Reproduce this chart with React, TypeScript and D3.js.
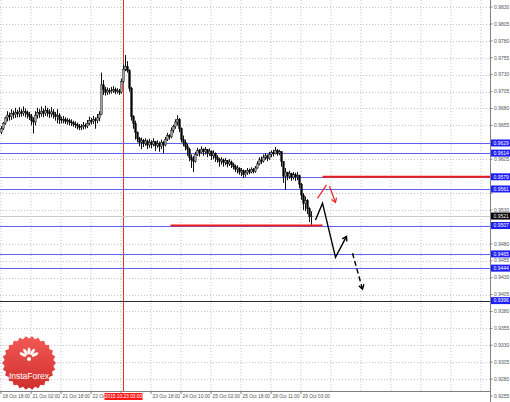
import * as d3 from "d3";

const width = 510;
const height = 402;
const plotRight = 490;
const plotBottom = 391;

// H1 candles, opens follow the previous close
const firstOpen = 0.9645;
const closes = [
  0.965, 0.9658, 0.9666, 0.967, 0.9668, 0.9673, 0.9671, 0.9674, 0.9672, 0.9675,
  0.9673, 0.9676, 0.9674, 0.9671, 0.9668, 0.9662, 0.966, 0.967, 0.9674, 0.9672,
  0.9676, 0.9673, 0.9677, 0.9674, 0.9672, 0.9675, 0.9671, 0.9668, 0.967, 0.9664,
  0.9663, 0.9664, 0.9661, 0.9662, 0.966, 0.9659, 0.9657, 0.9656, 0.9654, 0.9652,
  0.9653, 0.9655, 0.9654, 0.9658, 0.9662, 0.9661, 0.9664, 0.9662, 0.9666, 0.9671,
  0.9715, 0.9708, 0.9704, 0.9707, 0.9705, 0.9706, 0.9708, 0.9705, 0.9706, 0.9704,
  0.972, 0.9738, 0.9742, 0.9736, 0.971, 0.9668, 0.9658, 0.9645, 0.9636, 0.963,
  0.9633, 0.9628, 0.9632, 0.9626, 0.963, 0.9627, 0.9631, 0.9625, 0.9628, 0.9624,
  0.963, 0.9626, 0.9634, 0.964, 0.9638, 0.9648, 0.9653, 0.966, 0.9664, 0.965,
  0.9634, 0.963, 0.9624, 0.962, 0.9608, 0.9604, 0.9602, 0.9612, 0.9618, 0.9615,
  0.962, 0.9616, 0.9619, 0.9614, 0.9617, 0.961, 0.9614, 0.9608, 0.9605, 0.9602,
  0.9604, 0.96, 0.9603, 0.9598, 0.9601, 0.9597, 0.9594, 0.959, 0.9592, 0.9586,
  0.9588, 0.9582, 0.9585, 0.9588, 0.9586, 0.959, 0.9587, 0.9592, 0.9598, 0.9604,
  0.9602, 0.9608, 0.961, 0.9606, 0.9612, 0.9615, 0.9613, 0.9618, 0.9614, 0.9616,
  0.9602, 0.958, 0.9586, 0.958, 0.9584, 0.9578, 0.9582, 0.9579, 0.9581, 0.9568,
  0.9552, 0.954, 0.9544, 0.9532, 0.952, 0.9521,
];
const highs = [
  0.9654, 0.966, 0.9668, 0.9676, 0.9674, 0.9679, 0.9677, 0.9681, 0.9678, 0.9682,
  0.9679, 0.9683, 0.968, 0.9677, 0.9675, 0.9672, 0.9667, 0.9676, 0.9681, 0.9679,
  0.9683, 0.968, 0.9684, 0.9681, 0.9679, 0.9682, 0.9679, 0.9675, 0.9679, 0.9673,
  0.9668, 0.9669, 0.9667, 0.9666, 0.9665, 0.9664, 0.9662, 0.9661, 0.9659, 0.9657,
  0.9657, 0.966, 0.9658, 0.9663, 0.9668, 0.9666, 0.9669, 0.9667, 0.9672, 0.9676,
  0.9733, 0.9722, 0.9712, 0.9711, 0.971, 0.9712, 0.9713, 0.9711, 0.971, 0.9709,
  0.9724, 0.9745, 0.9759, 0.975, 0.9738, 0.9712, 0.967, 0.9662, 0.9646, 0.9638,
  0.9637, 0.9635, 0.9636, 0.9634, 0.9635, 0.9633, 0.9636, 0.9632, 0.9633, 0.9631,
  0.9634, 0.9632, 0.9638, 0.9644, 0.9642, 0.9652, 0.9656, 0.9664, 0.967, 0.9666,
  0.9652, 0.964, 0.9634, 0.9628, 0.9622, 0.9612, 0.961, 0.9616, 0.9622, 0.962,
  0.9624, 0.9621, 0.9623, 0.962, 0.9621, 0.9618, 0.9618, 0.9615, 0.9611, 0.9607,
  0.9608, 0.9606, 0.9607, 0.9604, 0.9605, 0.9603, 0.96, 0.9597, 0.9596, 0.9593,
  0.9592, 0.959, 0.9589, 0.9592, 0.9591, 0.9593, 0.9592, 0.9595, 0.9602, 0.9608,
  0.9609, 0.9612, 0.9614, 0.9612, 0.9616, 0.9618, 0.9619, 0.9623, 0.962, 0.9619,
  0.9617, 0.9602, 0.9592, 0.9586, 0.9588, 0.9585, 0.9586, 0.9585, 0.9586, 0.9582,
  0.957, 0.9555, 0.955, 0.9546, 0.9534, 0.9528,
];
const lows = [
  0.9642, 0.9648, 0.9656, 0.9661, 0.9662, 0.9663, 0.9665, 0.9666, 0.9667, 0.9667,
  0.9668, 0.9669, 0.9667, 0.9665, 0.9663, 0.9655, 0.9643, 0.9655, 0.9665, 0.9666,
  0.9668, 0.9667, 0.9669, 0.9668, 0.9666, 0.9667, 0.9665, 0.9662, 0.9658, 0.9657,
  0.9658, 0.9658, 0.9657, 0.9656, 0.9655, 0.9654, 0.9653, 0.9651, 0.9649, 0.9648,
  0.9648, 0.9649, 0.965, 0.9651, 0.9655, 0.9656, 0.9657, 0.965, 0.9658, 0.9661,
  0.967, 0.97, 0.9699, 0.97, 0.9701, 0.9702, 0.9703, 0.9701, 0.9702, 0.97,
  0.9702, 0.9718, 0.9735, 0.9733, 0.9705, 0.9662, 0.965, 0.9634, 0.963, 0.9624,
  0.962, 0.9623, 0.9625, 0.962, 0.9622, 0.9621, 0.9624, 0.9617, 0.9622, 0.9616,
  0.962, 0.9614, 0.9624, 0.9632, 0.9634, 0.9636, 0.9644, 0.965, 0.9655, 0.9645,
  0.963, 0.9624, 0.9618, 0.961, 0.9602, 0.9592, 0.9586, 0.96, 0.961, 0.9609,
  0.9613, 0.961, 0.9612, 0.9608, 0.961, 0.9604, 0.9605, 0.9601, 0.96, 0.9594,
  0.9597, 0.9594, 0.9596, 0.9593, 0.9595, 0.9592, 0.959, 0.9586, 0.9584, 0.9582,
  0.958, 0.9577, 0.9579, 0.9582, 0.9583, 0.9584, 0.9584, 0.9585, 0.9591, 0.9596,
  0.9598, 0.96, 0.9604, 0.9602, 0.9604, 0.9608, 0.9609, 0.9612, 0.961, 0.9611,
  0.9594, 0.957, 0.956, 0.9574, 0.9576, 0.9573, 0.9575, 0.9573, 0.9574, 0.9562,
  0.9545, 0.953, 0.9528, 0.9524, 0.9512, 0.9508,
];

const priceTicks = [
  0.983, 0.9805, 0.978, 0.9755, 0.973, 0.9705, 0.968, 0.9655, 0.963, 0.9605,
  0.958, 0.9555, 0.953, 0.9505, 0.948, 0.9455, 0.943, 0.9405, 0.938, 0.9355,
  0.933, 0.9305, 0.928, 0.9255,
];
const timeLabels = [
  "18 Oct 18:00", "21 Oct 02:00", "21 Oct 18:00", "22 Oct 10:00",
  "23 Oct 02:00", "23 Oct 18:00", "24 Oct 10:00", "25 Oct 02:00",
  "25 Oct 18:00", "28 Oct 11:00", "29 Oct 03:00",
];
const barsPerGrid = 15;
const cursorBar = 61;
const cursorLabel = "2015.10.23 03:00";

const blueLevels = [0.9629, 0.9614, 0.9579, 0.9561, 0.9507, 0.9465, 0.9444];
const darkLevel = 0.9396;
const bidPrice = 0.9521;

// [price, from bar, to bar]
const redLevels: [number, number, number][] = [
  [0.9579, 160.5, 244.5],
  [0.9507, 84.5, 160.5],
];

// forecast arrows, [bar, price]
const forecastSolid: [number, number][] = [
  [157, 0.9515], [160.5, 0.954], [167, 0.946], [172.5, 0.9491],
];
const forecastDashed: [number, number][] = [[175.5, 0.9466], [180.5, 0.9413]];
const redUp: [number, number][] = [[158, 0.9547], [162.5, 0.9567]];
const redDown: [number, number][] = [[164, 0.9565], [167, 0.9541]];

const fmt = d3.format(".4f");
const font = "'Liberation Sans', Arial, sans-serif";

function arrowHead(from: [number, number], tip: [number, number], size = 5) {
  const ang = Math.atan2(tip[1] - from[1], tip[0] - from[0]);
  const wing = (a: number): [number, number] => [
    tip[0] - size * Math.cos(ang + a),
    tip[1] - size * Math.sin(ang + a),
  ];
  return d3.line()([wing(0.55), tip, wing(-0.55)]);
}

function Logo({ cx, cy }: { cx: number; cy: number }) {
  const teeth = 26;
  const pts = d3.range(teeth * 2).map((k) => {
    const r = k % 2 === 0 ? 27 : 24.5;
    const a = (k / (teeth * 2)) * Math.PI * 2;
    return [cx + r * Math.cos(a), cy + r * Math.sin(a)] as [number, number];
  });
  const petals = [-60, -30, 0, 30, 60];
  return (
    <g>
      <defs>
        <linearGradient id="logoGrad" x1="0" y1="0" x2="0" y2="1">
          <stop offset="0" stopColor="#f25a55" />
          <stop offset="1" stopColor="#cf2e2c" />
        </linearGradient>
      </defs>
      <path d={d3.line()(pts) + "Z"} fill="url(#logoGrad)" />
      {petals.map((a) => (
        <ellipse
          key={a}
          cx={cx}
          cy={cy - 12}
          rx={1.5}
          ry={3.6}
          fill="#fff"
          transform={`rotate(${a} ${cx} ${cy - 5})`}
        />
      ))}
      <circle cx={cx} cy={cy - 4} r={2} fill="#fff" />
      <text
        x={cx}
        y={cy + 16}
        textAnchor="middle"
        fontFamily={font}
        fontSize={8.5}
        fill="#fff"
      >
        InstaForex
      </text>
    </g>
  );
}

export default function App() {
  const x = d3.scaleLinear([0, 1], [1.5, 3.5]);
  const y = d3.scaleLinear([0.9255, 0.983], [396, 7]);
  const gridBars = d3.range(0, 250, barsPerGrid);
  const line = d3.line<[number, number]>(
    (d) => x(d[0]),
    (d) => y(d[1]),
  );
  const px = (d: [number, number]): [number, number] => [x(d[0]), y(d[1])];
  const boxed = [...blueLevels, darkLevel, bidPrice];
  const nearBox = (p: number) => boxed.some((b) => Math.abs(y(b) - y(p)) < 6);
  const crisp = (p: number) => Math.round(y(p)) + 0.5;

  // the cursor date box hides the time labels beneath it
  const boxLeft = x(cursorBar) - 19;
  const boxRight = x(cursorBar) + 19;
  const labelX = (k: number) => x(k * barsPerGrid) + 1;
  const hidden = (k: number) => labelX(k) >= boxLeft && labelX(k) + 26 <= boxRight + 8;

  return (
    <svg
      width={width}
      height={height}
      style={{ position: "absolute", left: 0, top: 0, background: "#fff" }}
    >
      <defs>
        <clipPath id="timeClip">
          <rect x={0} y={plotBottom} width={boxLeft} height={height - plotBottom} />
          <rect
            x={boxRight}
            y={plotBottom}
            width={width - boxRight}
            height={height - plotBottom}
          />
        </clipPath>
      </defs>
      <rect width={width} height={height} fill="#fff" />

      {/* grid */}
      <g stroke="#c4c4c4" strokeWidth={1} strokeDasharray="1,2">
        {gridBars.map((b) => (
          <line key={b} x1={x(b) - 0.5} x2={x(b) - 0.5} y1={0} y2={plotBottom} />
        ))}
        {priceTicks
          .filter((p) => y(p) < plotBottom - 2)
          .filter((p) => !blueLevels.some((b) => Math.abs(y(b) - y(p)) < 2.5))
          .map((p) => (
            <line key={p} x1={0} x2={plotRight} y1={crisp(p)} y2={crisp(p)} />
          ))}
      </g>

      <Logo cx={29} cy={363} />

      {/* cursor line */}
      <line
        x1={x(cursorBar)}
        x2={x(cursorBar)}
        y1={0}
        y2={plotBottom}
        stroke="#e8302c"
        strokeWidth={1}
      />

      {/* bid line */}
      <line
        x1={0}
        x2={plotRight}
        y1={crisp(bidPrice)}
        y2={crisp(bidPrice)}
        stroke="#c8c8c8"
      />

      {/* level lines */}
      <g stroke="#5f5ff4" strokeWidth={1}>
        {blueLevels.map((p) => (
          <line key={p} x1={0} x2={plotRight} y1={crisp(p)} y2={crisp(p)} />
        ))}
      </g>
      <line
        x1={0}
        x2={plotRight}
        y1={crisp(darkLevel)}
        y2={crisp(darkLevel)}
        stroke="#2a2a3a"
      />

      {/* candles */}
      <g>
        {closes.map((c, i) => {
          const o = i === 0 ? firstOpen : closes[i - 1];
          const hi = Math.max(highs[i], o, c);
          const lo = Math.min(lows[i], o, c);
          const top = y(Math.max(o, c));
          const bot = y(Math.min(o, c));
          const bx = x(i);
          return (
            <g key={i}>
              <line x1={bx} x2={bx} y1={y(hi)} y2={y(lo)} stroke="#111" />
              <rect
                x={bx - 0.9}
                y={top}
                width={1.8}
                height={Math.max(bot - top, 0.8)}
                fill={c >= o ? "#a0a0a0" : "#000"}
                stroke="#000"
                strokeWidth={0.4}
              />
            </g>
          );
        })}
      </g>

      {/* red zone lines */}
      {redLevels.map(([p, b0, b1]) => (
        <line
          key={p}
          x1={x(b0)}
          x2={Math.min(x(b1), plotRight)}
          y1={y(p)}
          y2={y(p)}
          stroke="#ee1c1c"
          strokeWidth={2}
        />
      ))}

      {/* forecast arrows */}
      <g fill="none" stroke="#000" strokeWidth={1.4}>
        <path d={line(forecastSolid) ?? ""} />
        <path
          d={
            arrowHead(
              px(forecastSolid[forecastSolid.length - 2]),
              px(forecastSolid[forecastSolid.length - 1]),
            ) ?? ""
          }
        />
        <path d={line(forecastDashed) ?? ""} strokeDasharray="5,3" />
        <path d={arrowHead(px(forecastDashed[0]), px(forecastDashed[1])) ?? ""} />
      </g>
      <g fill="none" stroke="#ee2424" strokeWidth={1.2}>
        <path d={line(redUp) ?? ""} />
        <path d={line(redDown) ?? ""} />
        <path d={arrowHead(px(redDown[0]), px(redDown[1]), 5) ?? ""} />
      </g>

      {/* chart frame */}
      <line x1={plotRight + 0.5} x2={plotRight + 0.5} y1={0} y2={height} stroke="#808080" />
      <line x1={0} x2={plotRight} y1={plotBottom + 0.5} y2={plotBottom + 0.5} stroke="#808080" />

      {/* price axis */}
      <g fontFamily={font} fontSize={5} fill="#555">
        {priceTicks.map((p) => (
          <g key={p}>
            <line x1={plotRight} x2={plotRight + 2.5} y1={y(p)} y2={y(p)} stroke="#808080" />
            {!nearBox(p) && (
              <text x={494} y={y(p) + 1.8}>
                {fmt(p)}
              </text>
            )}
          </g>
        ))}
      </g>
      <g fontFamily={font} fontSize={5}>
        {[...blueLevels, darkLevel].map((p) => (
          <g key={p}>
            <rect x={491} y={y(p) - 3.5} width={19} height={7} fill="#1f1ff5" />
            <text x={493.5} y={y(p) + 1.8} fill="#fff">
              {fmt(p)}
            </text>
          </g>
        ))}
        <rect x={491} y={y(bidPrice) - 3.5} width={19} height={7} fill="#000" />
        <text x={493.5} y={y(bidPrice) + 1.8} fill="#fff">
          {fmt(bidPrice)}
        </text>
      </g>

      {/* time axis */}
      <g fontFamily={font} fontSize={4.8} fill="#555">
        {timeLabels.map((t, k) => (
          <line
            key={t}
            x1={x(k * barsPerGrid) - 0.5}
            x2={x(k * barsPerGrid) - 0.5}
            y1={plotBottom}
            y2={plotBottom + 3}
            stroke="#808080"
          />
        ))}
        <g clipPath="url(#timeClip)">
          {timeLabels.map((t, k) =>
            hidden(k) ? null : (
              <text key={t} x={labelX(k)} y={398}>
                {t}
              </text>
            ),
          )}
        </g>
        <rect x={boxLeft} y={393} width={38} height={7} fill="#ff1a1a" />
        <text x={x(cursorBar)} y={398.2} textAnchor="middle" fill="#fff">
          {cursorLabel}
        </text>
      </g>
    </svg>
  );
}
